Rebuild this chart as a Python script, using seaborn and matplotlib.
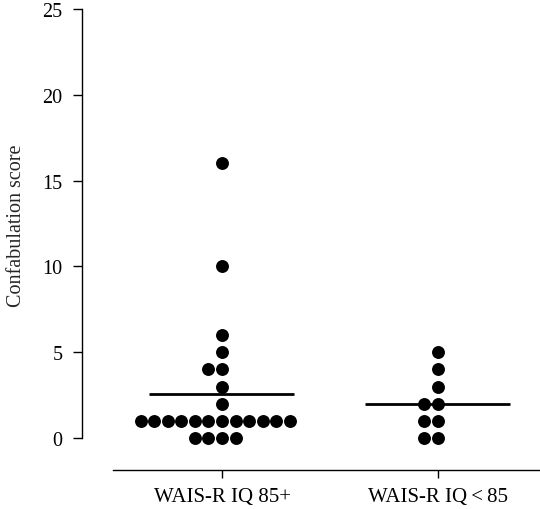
import pandas as pd
import numpy as np
import matplotlib
matplotlib.use('Agg')
import matplotlib.pyplot as plt
import seaborn as sns

# Confabulation scores
high_iq = [16, 10, 6, 5, 4, 4, 3, 2,
           1, 1, 1, 1, 1, 1, 1, 1, 1, 1, 1, 1,
           0, 0, 0, 0]
low_iq = [5, 4, 3, 2, 2, 1, 1, 0, 0]
groups = ['WAIS-R IQ 85+', 'WAIS-R IQ\u2009<\u200985']
y_ticks = [0, 5, 10, 15, 20, 25]

df = pd.DataFrame({
    'group': [groups[0]] * len(high_iq) + [groups[1]] * len(low_iq),
    'score': high_iq + low_iq,
})

sns.set_style('ticks')
plt.rcParams['font.family'] = ['Liberation Serif', 'DejaVu Serif']

fig = plt.figure(figsize=(5.4, 5.1), dpi=100)
ax = fig.add_axes([0.152, 0.0765, 0.848, 0.904])

sns.swarmplot(data=df, x='group', y='score', order=groups, color='black',
              size=9.3, linewidth=0, ax=ax)

# mean lines
means = df.groupby('group', sort=False)['score'].mean()
for i, g in enumerate(groups):
    ax.hlines(means[g], i - 0.34, i + 0.335, color='black', lw=2)

ax.set_ylim(-1.86, 25)
ax.set_xlim(-0.648, 1.472)
ax.set_yticks(y_ticks)
ax.set_xlabel('')
ax.set_ylabel('Confabulation score', fontsize=14.5)
ax.yaxis.set_label_coords(-0.122, 0.531)
ax.tick_params(axis='y', length=6.5, width=1, labelsize=14.5, pad=7.5, colors='black')
ax.tick_params(axis='x', length=5.5, width=1, labelsize=15, pad=7, colors='black')

sns.despine(ax=ax)
ax.spines['left'].set_bounds(0, 25)
ax.spines['bottom'].set_bounds(-0.505, 1.472)
for s in ['left', 'bottom']:
    ax.spines[s].set_linewidth(1)
    ax.spines[s].set_color('black')

fig.savefig('out.png', dpi=100)
